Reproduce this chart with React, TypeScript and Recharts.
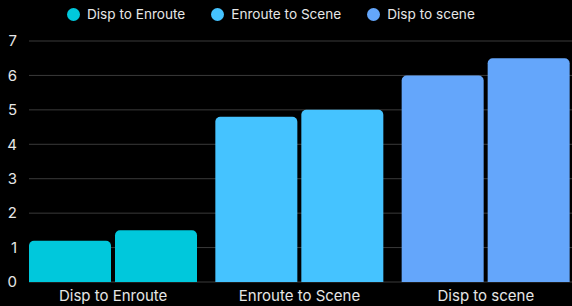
import { BarChart, Bar, XAxis, YAxis, CartesianGrid, Legend, Cell } from "recharts"

const categories = ["Disp to Enroute", "Enroute to Scene", "Disp to scene"]
const firstValues = [1.2, 4.8, 6.0]
const secondValues = [1.5, 5.0, 6.5]
const yTicks = [0, 1, 2, 3, 4, 5, 6, 7]
const colors = ["#00c8dc", "#45c3ff", "#64a6fb"]

const data = categories.map((name, i) => ({
  name,
  first: firstValues[i],
  second: secondValues[i],
}))

const font = "Inter, 'Noto Sans', sans-serif"

function CategoryLegend() {
  return (
    <div style={{ display: "flex", alignItems: "center", height: 28, paddingLeft: 67, fontFamily: font, fontSize: 13.6, color: "#e6e6e6" }}>
      {categories.map((c, i) => (
        <div key={c} style={{ display: "flex", alignItems: "center", marginRight: 26 }}>
          <span style={{ width: 13, height: 13, borderRadius: "50%", background: colors[i], marginRight: 7, display: "inline-block" }} />
          <span>{c}</span>
        </div>
      ))}
    </div>
  )
}

export default function App() {
  return (
    <div style={{ position: "absolute", left: 0, top: 0, width: 572, height: 306, background: "#000" }}>
      <BarChart width={572} height={306} data={data} margin={{ top: 13, right: 0, bottom: 0, left: 0 }} barSize={82} barGap={4}>
        <Legend verticalAlign="top" align="left" content={() => <CategoryLegend />} wrapperStyle={{ top: 0, left: 0, width: 572, height: 28 }} />
        <CartesianGrid vertical={false} stroke="#3a3a3a" />
        <XAxis
          dataKey="name"
          axisLine={false}
          tickLine={false}
          height={24}
          padding={{ left: -9, right: -7 }}
          tick={{ fill: "#e6e6e6", fontSize: 15, fontFamily: font }}
        />
        <YAxis
          width={29}
          domain={[0, 7]}
          ticks={yTicks}
          axisLine={false}
          tickLine={false}
          tickMargin={6}
          tick={{ fill: "#e6e6e6", fontSize: 15, fontFamily: font }}
        />
        <Bar dataKey="first" radius={[5, 5, 0, 0]} isAnimationActive={false}>
          {data.map((d, i) => (
            <Cell key={d.name} fill={colors[i]} />
          ))}
        </Bar>
        <Bar dataKey="second" radius={[5, 5, 0, 0]} isAnimationActive={false}>
          {data.map((d, i) => (
            <Cell key={d.name} fill={colors[i]} />
          ))}
        </Bar>
      </BarChart>
    </div>
  )
}
